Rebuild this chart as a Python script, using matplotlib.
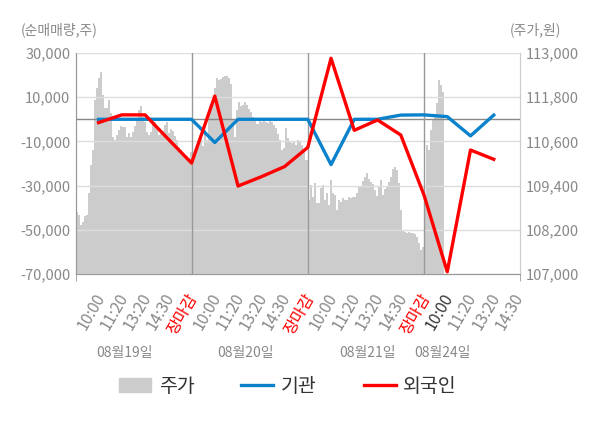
import numpy as np
import matplotlib.pyplot as plt
from matplotlib.transforms import ScaledTranslation, blended_transform_factory

plt.rcParams['font.family'] = ['Noto Sans CJK KR', 'DejaVu Sans']

# x-axis categories
tick_labels = ["10:00", "11:20", "13:20", "14:30", "장마감",
               "10:00", "11:20", "13:20", "14:30", "장마감",
               "10:00", "11:20", "13:20", "14:30", "장마감",
               "10:00", "11:20", "13:20", "14:30"]
day_labels = ["08월19일", "08월20일", "08월21일", "08월24일"]

# net buying (shares)
inst = [0, 0, 0, 0, 0, -10500, 0, 0, 0, 0,
        -20500, 0, 0, 1900, 2000, 1200, -7500, 1900]
foreign = [-1500, 2000, 2000, -9000, -19800, 10500, -30200, -26000, -21400, -12700,
           27600, -5000, -300, -7100, -34300, -69000, -13900, -18100]

# intraday price (won), one list per day
price_d1 = [108680, 108600, 108330, 108410, 108570, 108600, 109200, 109960, 110370, 111720,
            112050, 112320, 112480, 111860, 111510, 111510, 111720, 111370, 110720, 110640,
            110770, 110910, 111020, 110990, 110990, 110720, 110830, 110720, 110860, 111020,
            111240, 111450, 111560, 111260, 111130, 110860, 110770, 110860, 111050, 111130,
            110960, 110770, 110800, 110880, 111050, 111130, 110830, 110940, 110880, 110750,
            110640, 110450, 110370, 110290, 110180, 110100, 110150, 110310]
price_d2 = [110100, 110370, 110480, 110640, 110720, 110480, 110910, 110640, 111450, 111620,
            111720, 112050, 112320, 112270, 112290, 112350, 112380, 112380, 112320, 112160,
            111180, 110720, 111450, 111670, 111560, 111590, 111670, 111590, 111480, 111400,
            111260, 111240, 111070, 111070, 111180, 111130, 111240, 111130, 111100, 111150,
            111130, 111050, 110960, 110800, 110640, 110370, 110420, 110960, 110690, 110610,
            110560, 110610, 110500, 110640, 110580, 110500, 110370, 110100]
price_d3 = [109000, 109420, 109090, 109470, 108930, 108930, 109340, 109420, 109010, 109200,
            108870, 109550, 109200, 109140, 108740, 109010, 108950, 109060, 109010, 109010,
            109090, 109060, 109090, 109090, 109200, 109390, 109390, 109520, 109630, 109740,
            109580, 109500, 109440, 109280, 109120, 109360, 109550, 109140, 109310, 109390,
            109500, 109630, 109850, 109900, 109820, 109470, 108740, 108190, 108140, 108110,
            108140, 108110, 108110, 108090, 108000, 107840, 107650, 107730]
price_d4 = [109010, 110500, 110370, 110910, 111180, 111320, 111640, 112270, 112130, 111940,
            111860]

day_spans = [(-0.97, 3.95), (4.0, 8.9), (9.0, 13.9), (14.0, 14.85)]
day_label_x = [1.12, 6.3, 11.55, 14.8]

fig = plt.figure(figsize=(6, 4.28), dpi=100)
ax = fig.add_axes([0.1267, 0.3598, 0.74, 0.5164])
ax2 = ax.twinx()
ax.set_zorder(ax2.get_zorder() + 1)
ax.patch.set_visible(False)
ax2.set_facecolor('#f4f4f4')

# price area
px, py = [], []
for (a, b), vals in zip(day_spans, [price_d1, price_d2, price_d3, price_d4]):
    px.extend(np.linspace(a, b, len(vals)))
    py.extend(vals)
ax2.fill_between(px, py, 107000, color='#cccccc', step='post', linewidth=0)
ax2.set_ylim(107000, 113000)
ax2.set_yticks(np.arange(107000, 113001, 1200))
ax2.set_yticklabels([f"{v:,}" for v in range(107000, 113001, 1200)])

xi = np.arange(len(inst))
ax.plot(xi, inst, color='#0a82cc', lw=2.4, zorder=4)
ax.plot(xi, foreign, color='#ff0000', lw=2.4, zorder=5)

ax.set_ylim(-70000, 30000)
ax.set_yticks(np.arange(-70000, 30001, 20000))
ax.set_yticklabels([f"{v:,}" for v in range(-70000, 30001, 20000)])
ax.set_xlim(-0.97, 18.13)
ax.grid(axis='y', color='#dddddd', lw=1)
ax.axhline(0, color='#888888', lw=1, zorder=3)
for v in [4, 9, 14]:
    ax.axvline(v, color='#999999', lw=1, zorder=3)

ax.set_xticks(range(len(tick_labels)))
ax.set_xticklabels(tick_labels, rotation=60, ha='right', rotation_mode='anchor')
ax.tick_params(axis='x', length=0, pad=12, labelsize=11.5, labelcolor='#888888')
ax.set_xticks([-0.97, 4, 9, 14, 18.13], minor=True)
ax.tick_params(axis='x', which='minor', length=5, color='#999999')
shift = ScaledTranslation(-0.05, 0, fig.dpi_scale_trans)
for i, t in enumerate(ax.get_xticklabels()):
    t.set_transform(t.get_transform() + shift)
    if tick_labels[i] == "장마감":
        t.set_color('red')
    elif i == 15:
        t.set_color('#333333')

ax.tick_params(axis='y', length=0, labelsize=10.5, labelcolor='#888888', pad=4)
ax2.tick_params(axis='y', length=0, labelsize=10.5, labelcolor='#888888', pad=4)
for a in (ax, ax2):
    a.spines['top'].set_visible(False)
    a.spines['left'].set_color('#999999')
    a.spines['bottom'].set_color('#999999')
    a.spines['right'].set_color('#cccccc')

date_tr = blended_transform_factory(ax.transData, fig.transFigure)
for x, lab in zip(day_label_x, day_labels):
    ax.text(x, 0.175, lab, transform=date_tr, ha='center', va='center',
            fontsize=10, color='#888888')

fig.text(0.035, 0.93, "(순매매량,주)", ha='left', va='center', fontsize=10, color='#888888')
fig.text(0.935, 0.93, "(주가,원)", ha='right', va='center', fontsize=10, color='#888888')

handles = [plt.Rectangle((0, 0), 1, 1, color='#cccccc'),
           plt.Line2D([], [], color='#0a82cc', lw=2.4),
           plt.Line2D([], [], color='#ff0000', lw=2.4)]
fig.legend(handles, ["주가", "기관", "외국인"], loc='center', bbox_to_anchor=(0.48, 0.098),
           ncol=3, frameon=False, fontsize=14, handlelength=1.65, handleheight=0.72,
           columnspacing=2.4, handletextpad=0.4, labelcolor='#333333')

fig.savefig("out.png", dpi=100)
